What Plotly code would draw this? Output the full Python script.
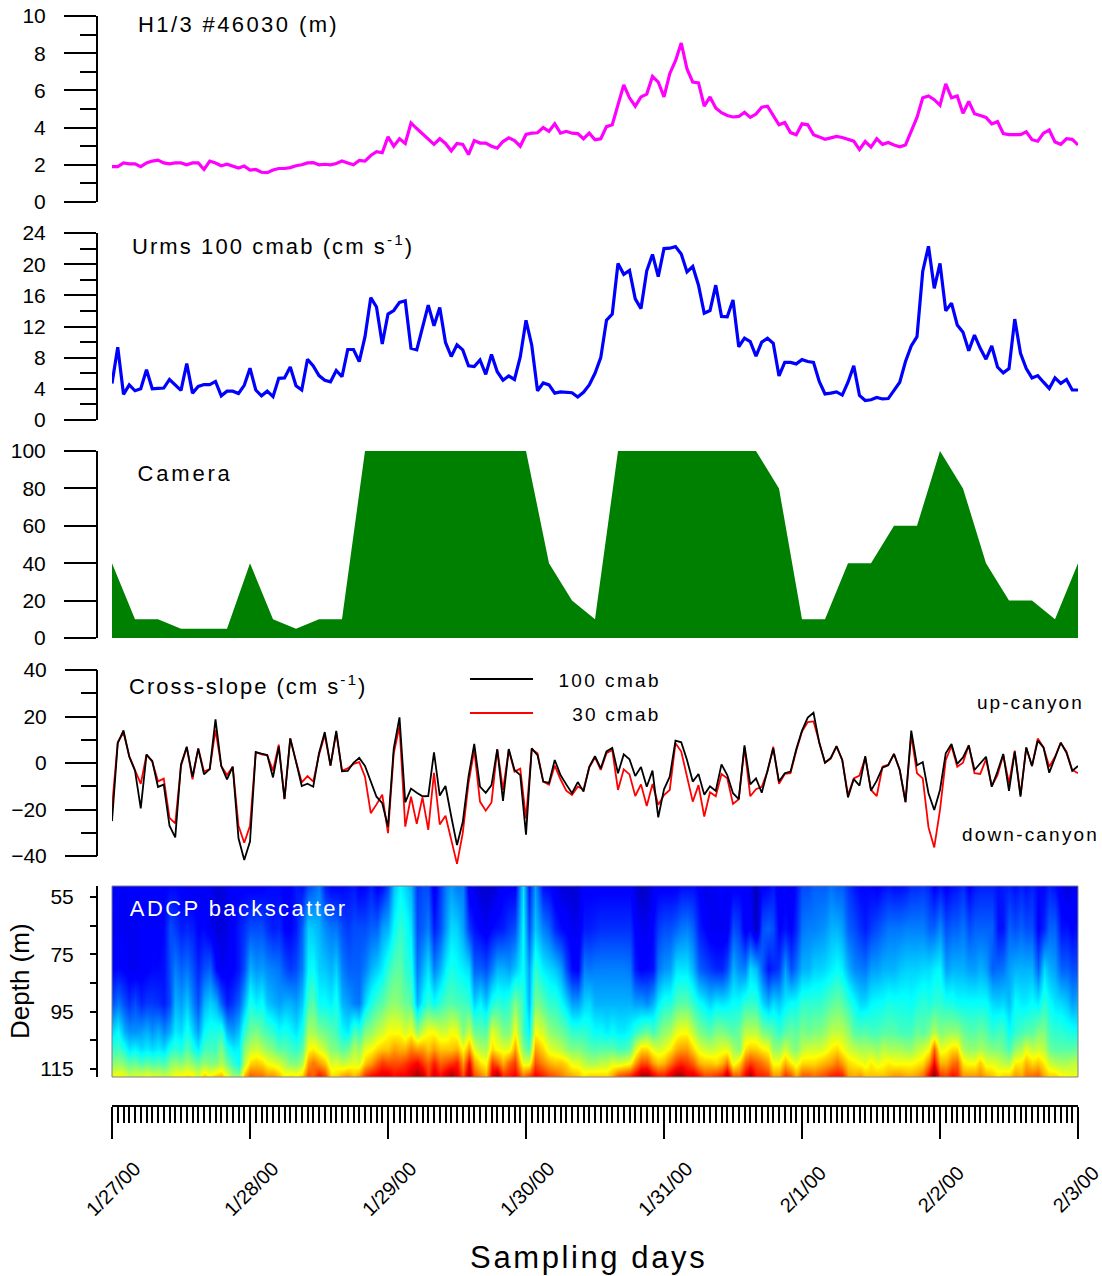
import numpy as np
import pandas as pd
import plotly.graph_objects as go

W, H = 1102, 1276
START = pd.Timestamp("2000-01-27")
END = pd.Timestamp("2000-02-03")

H13 = [1.9,1.9,2.1,2.05,2.05,1.9,2.1,2.2,2.25,2.1,2.05,2.1,2.1,2.0,2.1,2.1,1.75,2.2,2.1,1.95,2.03,1.93,1.83,1.93,1.72,1.75,1.6,1.58,1.72,1.8,
       1.8,1.85,1.95,2.0,2.1,2.12,2.0,2.03,2.0,2.07,2.2,2.1,2.0,2.23,2.2,2.5,2.7,2.65,3.5,3.0,3.4,3.15,4.25,3.95,3.65,3.35,3.1,3.4,3.15,2.75,
       3.15,3.1,2.55,3.3,3.17,3.17,3.0,2.9,3.25,3.45,3.3,3.0,3.63,3.7,3.72,4.0,3.8,4.2,3.7,3.8,3.7,3.68,3.4,3.7,3.35,3.4,4.05,4.15,5.2,6.3,
       5.6,5.15,5.65,5.8,6.75,6.45,5.65,6.9,7.6,8.55,7.15,6.45,6.4,5.15,5.65,5.05,4.8,4.65,4.57,4.6,4.82,4.55,4.73,5.1,5.15,4.62,4.15,4.27,3.73,3.62,
       4.2,4.15,3.62,3.5,3.37,3.45,3.53,3.47,3.35,3.27,2.82,3.25,2.95,3.4,3.1,3.2,3.07,2.97,3.07,3.8,4.55,5.6,5.7,5.5,5.2,6.35,5.6,5.7,4.77,5.4,
       4.75,4.65,4.55,4.2,4.32,3.68,3.62,3.62,3.62,3.77,3.35,3.27,3.7,3.87,3.23,3.1,3.4,3.37,3.07]

URMS = [4.7,9.35,3.3,4.5,3.75,4.0,6.45,4.0,4.05,4.1,5.2,4.55,3.8,7.25,3.45,4.3,4.55,4.55,4.95,3.1,3.7,3.7,3.4,4.45,6.65,3.85,3.1,3.7,3.0,5.35,
        5.4,6.8,4.4,3.85,7.8,6.95,5.7,5.1,4.9,6.35,5.55,9.05,9.05,7.5,10.7,15.7,14.5,9.75,13.6,14.05,15.1,15.3,9.2,9.0,11.75,14.75,12.1,14.45,9.95,8.15,
        9.65,9.0,6.95,6.85,7.7,5.85,8.4,6.2,5.1,5.65,5.2,8.1,12.8,9.6,3.75,4.75,4.5,3.45,3.6,3.55,3.5,2.95,3.55,4.5,6.0,8.0,12.8,13.6,20.1,18.7,
        19.2,15.55,14.3,19.15,21.25,18.4,22.0,22.05,22.25,21.3,19.0,19.7,17.3,13.7,14.05,17.3,13.3,13.25,15.4,9.4,10.5,10.05,8.2,10.0,10.5,9.85,5.65,7.4,7.4,7.2,
        7.75,7.5,7.4,4.95,3.35,3.45,3.6,3.2,4.85,6.95,3.15,2.5,2.6,2.9,2.7,2.75,3.85,4.85,7.5,9.5,10.7,19.1,22.3,16.9,20.1,14.0,15.0,12.2,11.25,8.9,
        10.9,9.2,7.8,9.5,6.8,6.05,6.6,12.95,8.55,6.6,5.4,5.7,4.85,4.05,5.4,4.7,5.2,3.85,3.85]

CAMERA = [40,10,10,5,5,5,40,10,5,10,10,100,100,100,100,100,100,100,100,40,20,10,100,100,100,100,100,100,100,80,
          10,10,40,40,60,60,100,80,40,20,20,10,40]

CROSS_100 = [-25,8.5,14,2.7,-3.3,-19.5,3.6,0.9,-10.3,-9.3,-27,-32,-0.6,7,-5.9,6.2,-4.9,-2.6,18.8,-1.3,-7,-1.6,-32.4,-41.7,-33.8,4.7,4,3.4,-6.2,7,
             -15.5,10.6,0.6,-9.9,-8.9,-10.2,4.2,13.3,-1.1,13.8,-3.6,-3.4,0.1,2.2,-1.3,-8,-14.5,-17.3,-27.4,6.3,19.6,-16.9,-11,-12.8,-14.3,-14.2,4.6,-14,-9.9,-23,
             -35.3,-25.4,-5.9,8.2,-10.2,-12.8,-9.5,5.9,-16.3,6,-3,-5.2,-30.8,6.3,3.4,-8,-8.6,1.3,-5.2,-9.2,-13,-8.2,-12.3,-1.6,2.9,-2.3,5,6.5,-4.4,3.7,
             1.6,-5.6,-1.7,-10.2,-3.3,-23.4,-11.3,-5.9,9.6,8.9,1.3,-8,-4.7,-13.6,-10,-12,-0.6,-5.2,-13,-15.5,7.6,-9.2,-6.6,-12.8,-3.7,6.3,-8,-4.4,-3.7,5.9,
             13.9,19.5,21.6,8.7,0.1,2.2,7.3,1.3,-14.8,-6.9,-9.7,2.9,-11.9,-7.6,-2,-1,3.9,-3,-16.8,13.9,-1,0.4,-13,-20.2,-11.6,4.2,8.2,-0.4,2.4,7.5,
             -3,-0.1,2.7,-10.2,-3.7,3.9,-12,4.9,-14.5,6.7,-1.3,9.6,6.7,-4.2,2.7,8.7,4.4,-3.4,-1.3]

CROSS_30 = [-19,9,13,3,-3,-9,3.6,0.6,-7.9,-6.7,-23.6,-26,-1.3,6.7,-7,6.3,-3.7,-2.6,14.2,-1.3,-5.2,-1.6,-27,-34.3,-27,4.7,3.7,3.3,-3.3,7.9,
            -15.5,10.6,0.6,-8.3,-5.6,-8,3.6,12,-1.1,13,-3.4,-2.3,-0.4,0.4,-5.9,-21.6,-17.8,-13.6,-30.2,4.2,15.9,-27.4,-14.5,-26.2,-14.8,-28.8,-4.2,-26.4,-22.7,-32.4,
            -43.4,-30.2,-8.7,5.6,-16.6,-20.5,-17,6,-11.6,5.6,-3.7,-2.4,-23.8,5.9,4.2,-8,-9.3,-1.1,-7,-11.9,-13.8,-10.2,-11.3,-2,2.4,-3,4.2,5.6,-11.6,-2.7,
            -4.9,-14.2,-9.2,-18.5,-9,-18,-13.8,-11.6,8.5,4.9,-5.9,-16.6,-9.5,-23,-12.6,-14.3,-4.7,-6.6,-17.6,-15.6,6.7,-14.3,-11.3,-10.2,-3.7,7,-9,-4.7,-4.4,5.3,
            13.5,17.6,17.9,8.5,0.1,1.9,7,1.3,-13.8,-6.6,-5.4,2.4,-11.6,-14.2,-1.6,-0.7,3.9,-3,-16.8,12,-4.4,-6.6,-27.7,-36.3,-20.2,1.3,7.3,-1.6,0.1,7.7,
            -4.4,-4.7,1.6,-9.9,-5.2,3.4,-8.7,5.3,-13.8,6.6,-1.3,10.5,6.7,-1.6,2.7,8.7,4.9,-3,-4.4]

HEAT_DEPTHS = [52, 66, 80, 92, 102, 108, 113, 117]
HEAT_HOURS_A = [0,2,4,6,8,10,12,14,16,18,20,22,24,26,28,30,32,34,36,38,40,42,44,46,48,50,52,54,56,58,60,62,64,66,68,70,71.5,72.5,73.5,
                76,78,80,82,84,86,88,90,92,94,96,98,100,102,104,106,108,110,112,114,116,118,120,122,124,126,128,130,132,134,136,138,140,142,143,144,
                146,148,150,152,154,156,158,160,162,164,166,168]
HEAT_COLUMNS_A = [
 [.12,.10,.12,.20,.34,.42,.50,.60],[.10,.10,.12,.20,.30,.40,.50,.60],[.12,.10,.10,.20,.27,.37,.48,.58],
 [.12,.12,.12,.18,.30,.36,.47,.60],[.12,.11,.13,.17,.30,.36,.46,.58],[.13,.20,.20,.20,.30,.40,.50,.58],
 [.12,.15,.22,.28,.34,.40,.50,.62],[.10,.15,.20,.25,.33,.40,.50,.62],[.10,.13,.20,.30,.38,.44,.52,.66],
 [.08,.08,.13,.30,.40,.44,.50,.66],[.10,.09,.11,.15,.30,.40,.48,.60],[.12,.15,.15,.22,.32,.37,.38,.50],
 [.12,.20,.30,.40,.48,.56,.66,.78],[.12,.20,.28,.38,.46,.55,.66,.76],[.13,.15,.25,.30,.42,.50,.60,.72],
 [.12,.12,.20,.30,.40,.46,.54,.62],[.15,.15,.20,.28,.35,.42,.50,.62],[.20,.33,.37,.44,.54,.62,.72,.80],
 [.25,.30,.33,.38,.50,.60,.72,.85],[.13,.24,.30,.36,.46,.50,.58,.65],[.13,.20,.25,.30,.38,.46,.56,.70],
 [.15,.20,.22,.25,.45,.55,.60,.68],[.13,.20,.25,.34,.50,.60,.68,.82],[.12,.22,.33,.44,.56,.66,.78,.88],
 [.20,.30,.42,.50,.62,.68,.80,.90],[.37,.42,.47,.50,.62,.70,.80,.88],[.30,.35,.40,.46,.62,.75,.85,.92],
 [.20,.22,.30,.38,.58,.72,.82,.92],[.10,.15,.25,.38,.62,.72,.85,.92],[.25,.28,.37,.45,.58,.68,.80,.92],
 [.25,.33,.38,.44,.60,.70,.85,.90],[.10,.18,.34,.42,.58,.72,.88,.96],[.07,.12,.22,.37,.47,.55,.65,.75],
 [.07,.13,.25,.40,.60,.66,.82,.90],[.12,.15,.30,.40,.50,.60,.70,.82],[.12,.20,.32,.50,.62,.72,.82,.88],
 [.35,.37,.38,.42,.44,.50,.60,.75],[.15,.20,.28,.30,.37,.45,.60,.80],[.28,.32,.42,.50,.62,.72,.80,.88],
 [.13,.22,.34,.42,.52,.60,.70,.80],[.08,.13,.28,.38,.48,.56,.68,.75],[.07,.10,.13,.28,.42,.50,.60,.70],
 [.12,.15,.25,.33,.42,.48,.56,.64],[.12,.16,.25,.30,.38,.45,.54,.66],[.12,.17,.25,.30,.36,.46,.56,.66],
 [.12,.17,.25,.30,.36,.44,.58,.78],[.12,.17,.24,.30,.38,.47,.62,.83],[.06,.10,.12,.28,.45,.66,.80,.95],
 [.10,.13,.14,.30,.44,.60,.72,.88],[.12,.20,.27,.40,.52,.60,.70,.84],[.12,.22,.35,.45,.60,.70,.82,.95],
 [.14,.25,.35,.46,.62,.72,.82,.90],[.12,.15,.22,.38,.50,.60,.70,.85],[.10,.10,.18,.33,.46,.56,.68,.80],
 [.12,.10,.16,.35,.50,.60,.70,.85],[.12,.20,.30,.38,.46,.54,.60,.78],[.12,.10,.25,.42,.56,.65,.78,.88],
 [.05,.05,.31,.42,.56,.67,.79,.85],[.13,.22,.14,.30,.48,.62,.72,.82],[.10,.12,.18,.32,.42,.52,.62,.72],
 [.10,.12,.20,.38,.48,.52,.64,.78],[.20,.24,.30,.42,.50,.56,.66,.78],[.22,.25,.33,.42,.50,.58,.66,.76],
 [.22,.27,.34,.44,.52,.60,.70,.80],[.22,.30,.38,.48,.56,.66,.76,.85],[.18,.22,.30,.42,.52,.58,.66,.72],
 [.13,.17,.25,.34,.45,.54,.62,.72],[.13,.18,.28,.37,.44,.54,.64,.68],[.14,.22,.30,.38,.46,.56,.62,.68],
 [.14,.24,.30,.39,.46,.54,.62,.72],[.15,.25,.33,.39,.44,.52,.62,.70],[.17,.25,.33,.40,.48,.56,.64,.72],
 [.16,.22,.34,.40,.50,.62,.75,.88],[.12,.22,.36,.42,.55,.78,.88,1.0],[.15,.26,.37,.42,.50,.60,.70,.82],
 [.14,.22,.30,.40,.52,.66,.76,.86],[.17,.24,.30,.38,.48,.54,.64,.72],[.15,.22,.28,.38,.46,.52,.62,.72],
 [.16,.22,.28,.38,.46,.52,.60,.70],[.14,.14,.23,.33,.44,.50,.58,.64],[.16,.22,.28,.31,.38,.44,.55,.66],
 [.16,.22,.30,.36,.44,.54,.64,.70],[.16,.20,.30,.38,.46,.56,.66,.76],[.13,.16,.34,.42,.50,.56,.64,.70],
 [.14,.22,.28,.35,.42,.46,.55,.66],[.08,.14,.22,.32,.40,.46,.54,.62],[.10,.14,.20,.30,.38,.48,.56,.62],
]
HEAT_HOURS_B = [1,3,5,7,9,11,13,15,17,19,21,23,25,27,29,31,33,35,37,39,41,43,45,47,49,51,53,55,57,59,61,63,65,67,69,
                75,77,79,81,83,85,87,89,91,93,95,97,99,101,103,105,107,109,111,
                113,115,117,119,121,123,125,127,129,131,133,135,137,139,141,145,147,149,151,153,155,157,159,161,163,165,167]
HEAT_COLUMNS_B = [
 [.11,.10,.13,.24,.38,.44,.52,.62],[.11,.10,.10,.17,.27,.35,.46,.56],[.12,.11,.11,.16,.28,.34,.44,.58],
 [.12,.12,.13,.18,.27,.34,.44,.58],[.12,.13,.14,.15,.26,.34,.44,.56],[.13,.18,.25,.30,.36,.42,.52,.62],
 [.10,.16,.24,.32,.40,.46,.54,.64],[.10,.12,.16,.20,.28,.36,.48,.58],[.10,.10,.22,.33,.40,.44,.50,.62],
 [.08,.08,.10,.22,.42,.50,.55,.68],[.11,.12,.12,.18,.28,.36,.42,.52],[.12,.17,.20,.30,.42,.50,.55,.68],
 [.12,.20,.27,.36,.50,.58,.68,.76],[.13,.17,.26,.32,.44,.52,.62,.72],[.13,.16,.24,.28,.38,.46,.58,.68],
 [.12,.12,.18,.30,.38,.44,.50,.64],[.14,.22,.25,.32,.40,.46,.54,.66],[.22,.32,.38,.46,.54,.64,.76,.78],
 [.16,.26,.32,.38,.48,.56,.68,.80],[.13,.24,.33,.40,.44,.50,.60,.66],[.14,.18,.22,.28,.36,.48,.58,.72],
 [.12,.20,.22,.24,.42,.52,.58,.72],[.16,.22,.30,.40,.52,.62,.72,.86],[.14,.28,.36,.46,.58,.68,.82,.90],
 [.32,.38,.46,.52,.62,.72,.80,.86],[.34,.40,.42,.48,.58,.70,.82,.88],[.18,.20,.24,.30,.52,.72,.88,.96],
 [.20,.25,.35,.42,.62,.68,.78,.82],[.18,.20,.30,.42,.58,.68,.78,.86],[.28,.34,.40,.46,.62,.68,.82,.96],
 [.25,.28,.36,.44,.50,.62,.72,.80],[.10,.14,.22,.33,.48,.60,.72,.80],[.07,.10,.20,.32,.46,.54,.62,.70],
 [.09,.14,.30,.42,.56,.62,.78,.96],[.12,.18,.28,.42,.50,.60,.78,.85],
 [.14,.25,.36,.46,.58,.66,.74,.84],[.10,.16,.32,.42,.50,.58,.68,.78],[.08,.12,.20,.34,.46,.52,.66,.72],
 [.08,.10,.12,.28,.42,.50,.60,.68],[.12,.15,.24,.34,.40,.46,.54,.66],[.12,.17,.25,.30,.38,.46,.56,.66],
 [.12,.17,.25,.30,.38,.46,.60,.70],[.12,.17,.25,.30,.36,.44,.60,.80],[.08,.12,.15,.28,.42,.58,.72,.88],
 [.07,.10,.13,.26,.48,.66,.80,.96],[.12,.18,.24,.36,.48,.58,.68,.84],[.12,.20,.28,.40,.54,.64,.76,.90],
 [.14,.24,.35,.46,.62,.72,.84,.96],[.14,.22,.30,.42,.56,.66,.78,.90],[.09,.13,.20,.36,.48,.58,.68,.80],
 [.10,.10,.16,.36,.50,.58,.66,.82],[.10,.10,.20,.36,.48,.60,.76,.94],[.12,.18,.26,.38,.48,.50,.66,.78],
 [.10,.12,.34,.42,.56,.68,.82,.95],
 [.12,.20,.22,.34,.50,.64,.76,.84],[.15,.20,.16,.34,.46,.52,.62,.72],[.12,.14,.28,.36,.46,.58,.70,.82],
 [.14,.16,.24,.38,.46,.50,.60,.70],[.20,.25,.30,.42,.48,.58,.66,.78],[.22,.26,.33,.42,.50,.58,.68,.78],
 [.24,.30,.36,.46,.56,.64,.72,.84],[.22,.28,.36,.46,.56,.62,.72,.84],[.15,.20,.26,.38,.46,.56,.64,.70],
 [.13,.15,.24,.34,.46,.54,.60,.68],[.12,.20,.28,.38,.44,.52,.60,.68],[.15,.24,.30,.40,.46,.54,.64,.70],
 [.14,.24,.32,.39,.44,.54,.62,.72],[.17,.25,.33,.38,.44,.52,.62,.70],[.18,.25,.34,.42,.46,.58,.66,.76],
 [.12,.20,.28,.40,.52,.62,.70,.80],[.15,.22,.30,.38,.52,.66,.78,.84],[.12,.20,.28,.38,.46,.52,.62,.72],
 [.16,.22,.30,.38,.48,.54,.68,.74],[.16,.22,.22,.34,.42,.50,.60,.68],[.15,.14,.24,.34,.44,.48,.56,.66],
 [.14,.20,.30,.38,.42,.52,.64,.72],[.14,.20,.30,.36,.46,.60,.70,.76],[.13,.12,.22,.36,.50,.58,.68,.78],
 [.16,.22,.30,.38,.44,.48,.58,.66],[.10,.14,.22,.34,.42,.46,.54,.62],[.10,.12,.20,.28,.40,.46,.56,.60],
]

DATE_TICKS = ["1/27/00","1/28/00","1/29/00","1/30/00","1/31/00","2/1/00","2/2/00","2/3/00"]
JET = [[0,"#00007f"],[.11,"#0000ff"],[.125,"#0000ff"],[.375,"#00ffff"],[.625,"#ffff00"],[.875,"#ff0000"],[1,"#7f0000"]]

if len(HEAT_HOURS_B) != len(HEAT_COLUMNS_B) or len(HEAT_HOURS_A) != len(HEAT_COLUMNS_A):
    print("HEAT LENGTH", len(HEAT_HOURS_A), len(HEAT_COLUMNS_A), len(HEAT_HOURS_B), len(HEAT_COLUMNS_B))

hours = pd.date_range(START, END, freq="h")
cam_x = pd.date_range(START, END, freq="4h")
heat_hours = np.array(HEAT_HOURS_A + HEAT_HOURS_B, dtype=float)
heat_cols = np.array(HEAT_COLUMNS_A + HEAT_COLUMNS_B)
order = np.argsort(heat_hours)
heat_x = [START + pd.Timedelta(hours=float(h)) for h in heat_hours[order]]
heat_z = heat_cols[order].T

def dom(top, bottom):
    return [1 - bottom / H, 1 - top / H]

FONT = "Liberation Sans, Arial, sans-serif"
TICKFONT = dict(family=FONT, size=21, color="black")
AXIS_X = 97 / W

fig = go.Figure()
fig.add_trace(go.Scatter(x=hours, y=H13, mode="lines", line=dict(color="#ff00ff", width=3.2), yaxis="y"))
fig.add_trace(go.Scatter(x=hours, y=URMS, mode="lines", line=dict(color="#0000ff", width=3.2), yaxis="y2"))
fig.add_trace(go.Scatter(x=cam_x, y=CAMERA, mode="lines", line=dict(color="#008000", width=0), fill="tozeroy",
                         fillcolor="#008000", yaxis="y3"))
fig.add_trace(go.Scatter(x=hours, y=CROSS_30, mode="lines", line=dict(color="#ff0000", width=1.8), yaxis="y4"))
fig.add_trace(go.Scatter(x=hours, y=CROSS_100, mode="lines", line=dict(color="#000000", width=1.8), yaxis="y4"))
fig.add_trace(go.Heatmap(x=heat_x, y=HEAT_DEPTHS, z=heat_z, colorscale=JET, zmin=0, zmax=1, showscale=False,
                         zsmooth="best", yaxis="y5"))

def yaxis(top, bottom, rng, dtick, minor_dtick, major_len=32, minor_len=16, standoff=14, line=True):
    return dict(domain=dom(top, bottom), range=rng, anchor="free", position=AXIS_X, side="left", automargin=False,
                showgrid=False, zeroline=False, showline=line, linecolor="black", linewidth=2,
                ticks="outside", ticklen=major_len, tickwidth=2, tickcolor="black", tickfont=TICKFONT,
                tick0=0, dtick=dtick, ticklabelstandoff=standoff,
                minor=dict(tick0=0, dtick=minor_dtick, ticks="outside", ticklen=minor_len, tickwidth=2, tickcolor="black", showgrid=False))

layout_axes = dict(
    yaxis=yaxis(16, 202, [0, 10], 2, 1),
    yaxis2=yaxis(233, 420, [0, 24], 4, 2),
    yaxis3=yaxis(451, 638, [0, 100], 20, 20),
    yaxis4=yaxis(670, 865.3, [-44, 40], 20, 10, line=False),
    yaxis5=dict(domain=dom(886, 1077), range=[117.75, 51.2], anchor="free", position=AXIS_X, side="left", automargin=False,
                showgrid=False, zeroline=False, showline=True, linecolor="black", linewidth=2,
                ticks="outside", ticklen=6, tickwidth=2, tickcolor="black", tickfont=TICKFONT,
                tick0=55, dtick=20, ticklabelstandoff=12,
                minor=dict(tick0=55, dtick=10, ticks="outside", ticklen=6, tickwidth=2, tickcolor="black", showgrid=False)),
)

# text, left px, middle px, size, colour, letter spacing, character count
LABELS = [
    ("H1/3 #46030 (m)", 136, 25, 22, "black", 2.4, 15),
    ("Urms 100 cmab (cm s<sup>-1</sup>)", 130, 245, 22, "black", 2.1, 22),
    ("Camera", 136, 473, 22, "black", 2.8, 6),
    ("Cross-slope (cm s<sup>-1</sup>)", 127, 685, 22, "black", 2.0, 20),
    ("100 cmab", 556, 680, 19, "black", 2.4, 8),
    ("30 cmab", 570, 714, 19, "black", 2.2, 7),
    ("up-canyon", 975, 702, 19, "black", 2.0, 9),
    ("down-canyon", 960, 834, 19, "black", 2.2, 11),
    ("ADCP backscatter", 128, 908, 22, "white", 2.4, 16),
    ("Sampling days", 468, 1257, 31, "black", 2.6, 13),
]
anns = [dict(text=t, x=(x + n * sp / 2) / W, y=1 - y / H, xref="paper", yref="paper", xanchor="left", yanchor="middle",
             showarrow=False, font=dict(family=FONT, size=s, color=c)) for t, x, y, s, c, sp, n in LABELS]
anns.append(dict(text="Depth (m)", x=20 / W, y=1 - 981 / H, xref="paper", yref="paper", textangle=-90, showarrow=False,
                 xanchor="center", yanchor="middle", font=dict(family=FONT, size=26, color="black")))
for i, label in enumerate(DATE_TICKS):
    anns.append(dict(text=label, x=START + pd.Timedelta(days=i), y=1 - 1189 / H, xref="x", yref="paper", textangle=-45,
                     showarrow=False, xanchor="center", yanchor="middle", xshift=-2 if i == len(DATE_TICKS) - 1 else 1,
                     font=dict(family=FONT, size=20, color="black")))

shapes = [
    dict(type="line", xref="paper", yref="paper", x0=470 / W, x1=533 / W, y0=1 - 679 / H, y1=1 - 679 / H,
         line=dict(color="black", width=1.8)),
    dict(type="line", xref="paper", yref="paper", x0=470 / W, x1=533 / W, y0=1 - 713 / H, y1=1 - 713 / H,
         line=dict(color="red", width=1.8)),
    dict(type="rect", xref="x domain", yref="y5 domain", x0=0, x1=1, y0=0, y1=1, line=dict(color="#808080", width=1)),
    dict(type="line", xref="paper", yref="y4", x0=AXIS_X, x1=AXIS_X, y0=-40, y1=40, line=dict(color="black", width=2)),
]

fig.update_layout(
    width=W, height=H, margin=dict(l=0, r=0, t=0, b=0), paper_bgcolor="white", plot_bgcolor="rgba(0,0,0,0)",
    showlegend=False, font=dict(family=FONT, color="black"),
    xaxis=dict(domain=[112 / W, 1078 / W], type="date", range=[START, END], anchor="free", position=1 - 1106 / H,
               side="bottom", showgrid=False, zeroline=False, showline=True, linecolor="black", linewidth=2, automargin=False,
               ticks="outside", ticklen=32, tickwidth=2, tickcolor="black", showticklabels=False,
               tick0=START, dtick=86400000,
               minor=dict(tick0=START, dtick=3600000, ticks="outside", ticklen=16, tickwidth=2, tickcolor="black", showgrid=False)),
    annotations=anns, shapes=shapes, **layout_axes)

spacing = [s[5] for s in LABELS]
post = """
document.body.style.margin='0';document.documentElement.style.overflow='hidden';
var sp=%s;
document.querySelectorAll('.annotation-text').forEach(function(t,i){if(i<sp.length){t.style.letterSpacing=sp[i]+'px';}});
""" % spacing
fig.write_html("out.html", post_script=post, config={"displayModeBar": False})
